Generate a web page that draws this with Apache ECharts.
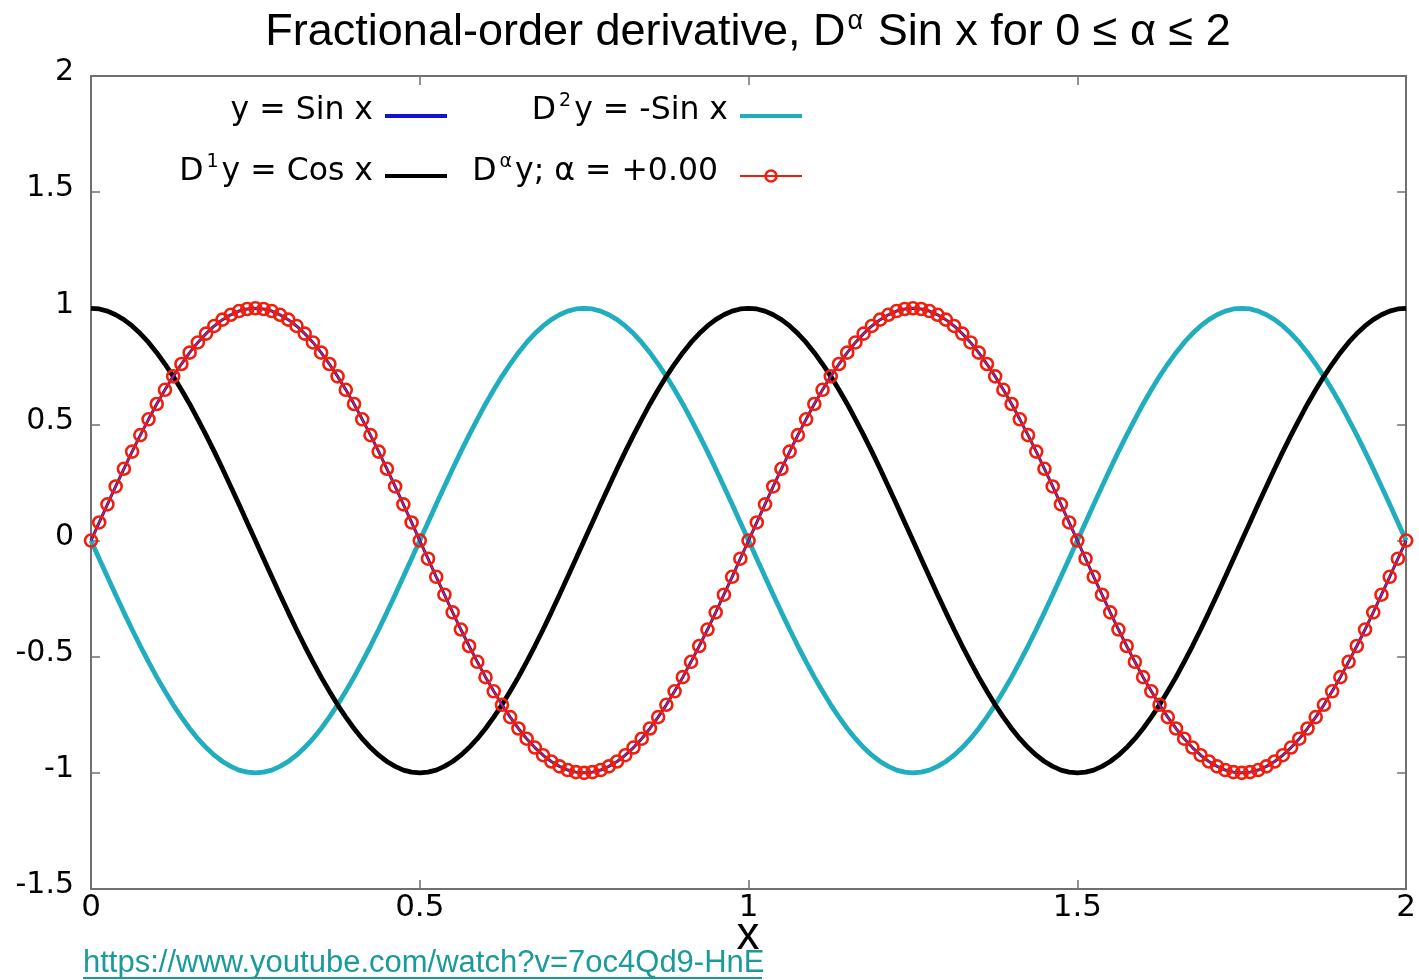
<!DOCTYPE html>
<html>
<head>
<meta charset="utf-8">
<title>Fractional-order derivative of Sin x</title>
<script src="https://cdn.jsdelivr.net/npm/echarts@6/dist/echarts.min.js"></script>
<style>
  html, body { margin: 0; padding: 0; background: #fff; }
  #chart { width: 1419px; height: 980px; }
</style>
</head>
<body>
<div id="chart"></div>
<script>
// Sampling grid (x in units of the plotted period)
const X_START = 0;
const X_STEP = 0.0125;

// y = Sin x (also D^alpha y with alpha = +0.00)
const SIN_Y = [
  0.000, 0.078, 0.156, 0.233, 0.309, 0.383, 0.454, 0.522, 0.588, 0.649,
  0.707, 0.760, 0.809, 0.853, 0.891, 0.924, 0.951, 0.972, 0.988, 0.997,
  1.000, 0.997, 0.988, 0.972, 0.951, 0.924, 0.891, 0.853, 0.809, 0.760,
  0.707, 0.649, 0.588, 0.522, 0.454, 0.383, 0.309, 0.233, 0.156, 0.078,
  0.000, -0.078, -0.156, -0.233, -0.309, -0.383, -0.454, -0.522, -0.588, -0.649,
  -0.707, -0.760, -0.809, -0.853, -0.891, -0.924, -0.951, -0.972, -0.988, -0.997,
  -1.000, -0.997, -0.988, -0.972, -0.951, -0.924, -0.891, -0.853, -0.809, -0.760,
  -0.707, -0.649, -0.588, -0.522, -0.454, -0.383, -0.309, -0.233, -0.156, -0.078,
  0.000, 0.078, 0.156, 0.233, 0.309, 0.383, 0.454, 0.522, 0.588, 0.649,
  0.707, 0.760, 0.809, 0.853, 0.891, 0.924, 0.951, 0.972, 0.988, 0.997,
  1.000, 0.997, 0.988, 0.972, 0.951, 0.924, 0.891, 0.853, 0.809, 0.760,
  0.707, 0.649, 0.588, 0.522, 0.454, 0.383, 0.309, 0.233, 0.156, 0.078,
  0.000, -0.078, -0.156, -0.233, -0.309, -0.383, -0.454, -0.522, -0.588, -0.649,
  -0.707, -0.760, -0.809, -0.853, -0.891, -0.924, -0.951, -0.972, -0.988, -0.997,
  -1.000, -0.997, -0.988, -0.972, -0.951, -0.924, -0.891, -0.853, -0.809, -0.760,
  -0.707, -0.649, -0.588, -0.522, -0.454, -0.383, -0.309, -0.233, -0.156, -0.078,
  0.000
];

// D^1 y = Cos x
const COS_Y = [
  1.000, 0.997, 0.988, 0.972, 0.951, 0.924, 0.891, 0.853, 0.809, 0.760,
  0.707, 0.649, 0.588, 0.522, 0.454, 0.383, 0.309, 0.233, 0.156, 0.078,
  0.000, -0.078, -0.156, -0.233, -0.309, -0.383, -0.454, -0.522, -0.588, -0.649,
  -0.707, -0.760, -0.809, -0.853, -0.891, -0.924, -0.951, -0.972, -0.988, -0.997,
  -1.000, -0.997, -0.988, -0.972, -0.951, -0.924, -0.891, -0.853, -0.809, -0.760,
  -0.707, -0.649, -0.588, -0.522, -0.454, -0.383, -0.309, -0.233, -0.156, -0.078,
  0.000, 0.078, 0.156, 0.233, 0.309, 0.383, 0.454, 0.522, 0.588, 0.649,
  0.707, 0.760, 0.809, 0.853, 0.891, 0.924, 0.951, 0.972, 0.988, 0.997,
  1.000, 0.997, 0.988, 0.972, 0.951, 0.924, 0.891, 0.853, 0.809, 0.760,
  0.707, 0.649, 0.588, 0.522, 0.454, 0.383, 0.309, 0.233, 0.156, 0.078,
  0.000, -0.078, -0.156, -0.233, -0.309, -0.383, -0.454, -0.522, -0.588, -0.649,
  -0.707, -0.760, -0.809, -0.853, -0.891, -0.924, -0.951, -0.972, -0.988, -0.997,
  -1.000, -0.997, -0.988, -0.972, -0.951, -0.924, -0.891, -0.853, -0.809, -0.760,
  -0.707, -0.649, -0.588, -0.522, -0.454, -0.383, -0.309, -0.233, -0.156, -0.078,
  0.000, 0.078, 0.156, 0.233, 0.309, 0.383, 0.454, 0.522, 0.588, 0.649,
  0.707, 0.760, 0.809, 0.853, 0.891, 0.924, 0.951, 0.972, 0.988, 0.997,
  1.000
];

// D^2 y = -Sin x
const NEG_SIN_Y = [
  0.000, -0.078, -0.156, -0.233, -0.309, -0.383, -0.454, -0.522, -0.588, -0.649,
  -0.707, -0.760, -0.809, -0.853, -0.891, -0.924, -0.951, -0.972, -0.988, -0.997,
  -1.000, -0.997, -0.988, -0.972, -0.951, -0.924, -0.891, -0.853, -0.809, -0.760,
  -0.707, -0.649, -0.588, -0.522, -0.454, -0.383, -0.309, -0.233, -0.156, -0.078,
  0.000, 0.078, 0.156, 0.233, 0.309, 0.383, 0.454, 0.522, 0.588, 0.649,
  0.707, 0.760, 0.809, 0.853, 0.891, 0.924, 0.951, 0.972, 0.988, 0.997,
  1.000, 0.997, 0.988, 0.972, 0.951, 0.924, 0.891, 0.853, 0.809, 0.760,
  0.707, 0.649, 0.588, 0.522, 0.454, 0.383, 0.309, 0.233, 0.156, 0.078,
  0.000, -0.078, -0.156, -0.233, -0.309, -0.383, -0.454, -0.522, -0.588, -0.649,
  -0.707, -0.760, -0.809, -0.853, -0.891, -0.924, -0.951, -0.972, -0.988, -0.997,
  -1.000, -0.997, -0.988, -0.972, -0.951, -0.924, -0.891, -0.853, -0.809, -0.760,
  -0.707, -0.649, -0.588, -0.522, -0.454, -0.383, -0.309, -0.233, -0.156, -0.078,
  0.000, 0.078, 0.156, 0.233, 0.309, 0.383, 0.454, 0.522, 0.588, 0.649,
  0.707, 0.760, 0.809, 0.853, 0.891, 0.924, 0.951, 0.972, 0.988, 0.997,
  1.000, 0.997, 0.988, 0.972, 0.951, 0.924, 0.891, 0.853, 0.809, 0.760,
  0.707, 0.649, 0.588, 0.522, 0.454, 0.383, 0.309, 0.233, 0.156, 0.078,
  0.000
];

// Axis ranges and tick spacing
const X_RANGE = [0, 2];
const Y_RANGE = [-1.5, 2];
const TICK_STEP = 0.5;

const COLORS = {
  sin: '#1212d6',
  cos: '#000000',
  negSin: '#20adbd',
  frac: '#f01e0a',
  frame: '#707070',
  link: '#1a9a9a'
};

const LABEL_FONT = 'DejaVu Sans, Noto Sans, sans-serif';
const TITLE_FONT = 'Liberation Sans, Arial, sans-serif';

function toPoints(ys) {
  return ys.map((y, i) => [X_START + i * X_STEP, y]);
}

const chart = echarts.init(document.getElementById('chart'), null, { renderer: 'canvas' });

const tickStyle = { inside: true, length: 9, lineStyle: { color: COLORS.frame, width: 1.5 } };
const lineStyleFrame = { show: true, onZero: false, lineStyle: { color: COLORS.frame, width: 2 } };

const legendRich = {
  n: { fontFamily: LABEL_FONT, fontSize: 31.5, lineHeight: 38, color: '#000' },
  s: { fontFamily: LABEL_FONT, fontSize: 19, lineHeight: 38, verticalAlign: 'top', color: '#000', padding: [0, 3, 10, 3] }
};

function legendText(x, y, text) {
  return {
    type: 'text', x: x, y: y,
    style: { text: text, align: 'right', verticalAlign: 'middle', rich: legendRich }
  };
}

function legendLine(x1, x2, y, color, width) {
  return {
    type: 'line',
    shape: { x1: x1, y1: y, x2: x2, y2: y },
    style: { stroke: color, lineWidth: width }
  };
}

const option = {
  backgroundColor: '#fff',
  animation: false,
  grid: { left: 91, top: 76, right: 12, bottom: 91, containLabel: false },
  xAxis: [
    {
      type: 'value', min: X_RANGE[0], max: X_RANGE[1], interval: TICK_STEP,
      position: 'bottom',
      axisLine: lineStyleFrame, axisTick: tickStyle, splitLine: { show: false },
      axisLabel: { color: '#000', fontFamily: LABEL_FONT, fontSize: 31, margin: 3 }
    },
    {
      type: 'value', min: X_RANGE[0], max: X_RANGE[1], interval: TICK_STEP,
      position: 'top',
      axisLine: lineStyleFrame, axisTick: tickStyle, splitLine: { show: false },
      axisLabel: { show: false }
    }
  ],
  yAxis: [
    {
      type: 'value', min: Y_RANGE[0], max: Y_RANGE[1], interval: TICK_STEP,
      position: 'left',
      axisLine: lineStyleFrame, axisTick: tickStyle, splitLine: { show: false },
      axisLabel: {
        margin: 17,
        formatter: (v) => '{v|' + v + '}',
        rich: { v: { color: '#000', fontFamily: LABEL_FONT, fontSize: 30, lineHeight: 32, padding: [0, 0, 7, 0] } }
      }
    },
    {
      type: 'value', min: Y_RANGE[0], max: Y_RANGE[1], interval: TICK_STEP,
      position: 'right',
      axisLine: lineStyleFrame, axisTick: tickStyle, splitLine: { show: false },
      axisLabel: { show: false }
    }
  ],
  series: [
    {
      name: 'D2y = -Sin x', type: 'line', z: 2, showSymbol: false, symbol: 'none',
      data: toPoints(NEG_SIN_Y),
      lineStyle: { color: COLORS.negSin, width: 4.8 }
    },
    {
      name: 'D1y = Cos x', type: 'line', z: 3, showSymbol: false, symbol: 'none',
      data: toPoints(COS_Y),
      lineStyle: { color: COLORS.cos, width: 4.8 }
    },
    {
      name: 'y = Sin x', type: 'line', z: 4, showSymbol: false, symbol: 'none',
      data: toPoints(SIN_Y),
      lineStyle: { color: COLORS.sin, width: 3 }
    },
    {
      name: 'Day', type: 'line', z: 5,
      data: toPoints(SIN_Y),
      symbol: 'circle', symbolSize: 12, showAllSymbol: true,
      itemStyle: { color: 'rgba(0,0,0,0)', borderColor: COLORS.frac, borderWidth: 2.6 },
      lineStyle: { color: COLORS.frac, width: 1.5 }
    }
  ],
  graphic: [
    // title
    {
      type: 'text', x: 748, y: 33,
      style: {
        text: '{t|Fractional-order derivative, D}{s|α}{t| Sin x for 0 ≤ α ≤ 2}',
        align: 'center', verticalAlign: 'middle',
        rich: {
          t: { fontFamily: TITLE_FONT, fontSize: 45, lineHeight: 50, color: '#000' },
          s: { fontFamily: TITLE_FONT, fontSize: 27, lineHeight: 50, verticalAlign: 'top', color: '#000', padding: [0, 2, 6, 2] }
        }
      }
    },
    // legend, column 1
    legendText(373, 111, '{n|y = Sin x}'),
    legendLine(385, 447, 116, COLORS.sin, 4),
    legendText(373, 172, '{n|D}{s|1}{n|y = Cos x}'),
    legendLine(385, 447, 176, COLORS.cos, 4),
    // legend, column 2
    legendText(728, 111, '{n|D}{s|2}{n|y = -Sin x}'),
    legendLine(740, 802, 116, COLORS.negSin, 4),
    legendText(718, 172, '{n|D}{s|α}{n|y; α = +0.00}'),
    legendLine(740, 802, 176, COLORS.frac, 2),
    {
      type: 'circle', shape: { cx: 771, cy: 176, r: 5.5 },
      style: { fill: 'rgba(0,0,0,0)', stroke: COLORS.frac, lineWidth: 2.5 }
    },
    // x axis name
    {
      type: 'text', x: 748, y: 936,
      style: { text: 'x', align: 'center', verticalAlign: 'middle', fontFamily: TITLE_FONT, fontSize: 46, fill: '#000' }
    },
    // source link
    {
      type: 'text', x: 83, y: 963,
      style: { text: 'https://www.youtube.com/watch?v=7oc4Qd9-HnE', align: 'left', verticalAlign: 'middle', fontFamily: TITLE_FONT, fontSize: 31, fill: COLORS.link }
    },
    {
      type: 'line', shape: { x1: 83, y1: 978, x2: 762, y2: 978 },
      style: { stroke: COLORS.link, lineWidth: 2 }
    }
  ]
};

chart.setOption(option);
</script>
</body>
</html>
